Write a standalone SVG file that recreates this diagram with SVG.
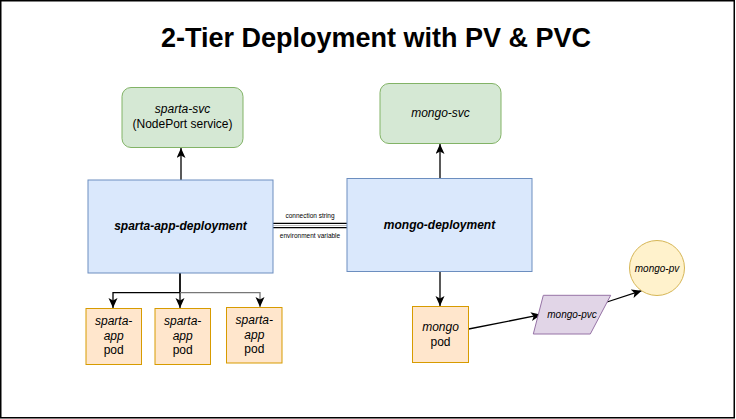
<svg xmlns="http://www.w3.org/2000/svg" width="736" height="419" viewBox="0 0 736 419">
<style>
text{font-family:"Liberation Sans",Arial,Helvetica,sans-serif;fill:#000;text-anchor:middle}
.l{font-size:12px}
.i{font-style:italic}
.b{font-weight:bold}
.s{font-size:10px;font-style:italic}
.t{font-size:6.5px}
.green{fill:#d5e8d4;stroke:#82b366;stroke-width:1}
.blue{fill:#dae8fc;stroke:#6c8ebf;stroke-width:1}
.orange{fill:#ffe6cc;stroke:#d79b00;stroke-width:1}
.purple{fill:#e1d5e7;stroke:#9673a6;stroke-width:1}
.yellow{fill:#fff2cc;stroke:#d6b656;stroke-width:1}
.e{fill:none;stroke:#000;stroke-width:1.3}
</style>
<defs>
<marker id="arr" markerUnits="userSpaceOnUse" markerWidth="12" markerHeight="10" refX="10" refY="4.5" orient="auto">
<path d="M0,0 L10,4.5 L0,9 L2.5,4.5 Z" fill="#000"/>
</marker>
</defs>
<rect x="0.75" y="0.75" width="733.5" height="417" fill="#fff" stroke="#000" stroke-width="1.5"/>
<text x="376" y="47" class="b" style="font-size:27px">2-Tier Deployment with PV &amp; PVC</text>

<g id="connectors">
<path class="e" d="M181,180 L181,148" marker-end="url(#arr)"/>
<path class="e" d="M440,178 L440,144" marker-end="url(#arr)"/>
<path class="e" d="M180,273 L180,292.7 L113,292.7 L113,308" marker-end="url(#arr)"/>
<path class="e" d="M180,273 L180,308" marker-end="url(#arr)"/>
<path class="e" style="stroke:#777" d="M180,292.7 L260,292.7 L260,307" marker-end="url(#arr)"/>
<path class="e" d="M440,271 L440,306" marker-end="url(#arr)"/>
<path class="e" d="M468.7,329 L541,314.7" marker-end="url(#arr)"/>
<path class="e" d="M607,302 L641.7,290.7" marker-end="url(#arr)"/>
<g id="link">
<line x1="273" y1="223.4" x2="347" y2="223.4" stroke="#000" stroke-width="1.3"/>
<line x1="273" y1="227.6" x2="347" y2="227.6" stroke="#000" stroke-width="1.3"/>
<line x1="273" y1="225.5" x2="347" y2="225.5" stroke="#bbb" stroke-width="1"/>
<text x="310" y="218" class="t">connection string</text>
<text x="310" y="237.5" class="t">environment variable</text>
</g>
</g>

<g id="sparta-svc">
<rect x="122" y="87.5" width="121" height="60" rx="9" class="green"/>
<text x="182.5" y="113" class="l i">sparta-svc</text>
<text x="182.5" y="128" class="l">(NodePort service)</text>
</g>
<g id="mongo-svc">
<rect x="380" y="83.5" width="121" height="60" rx="9" class="green"/>
<text x="440.5" y="117" class="l i">mongo-svc</text>
</g>
<g id="sparta-app-deployment">
<rect x="88" y="180" width="185" height="93" class="blue"/>
<text x="180.5" y="229.5" class="l i b">sparta-app-deployment</text>
</g>
<g id="mongo-deployment">
<rect x="347" y="178.5" width="185" height="93" class="blue"/>
<text x="439.5" y="228.5" class="l i b">mongo-deployment</text>
</g>
<g id="pod1">
<rect x="86" y="308.5" width="55.5" height="56" class="orange"/>
<text x="113.7" y="325" class="l i">sparta-</text>
<text x="113.7" y="339.5" class="l i">app</text>
<text x="113.7" y="354" class="l">pod</text>
</g>
<g id="pod2">
<rect x="155" y="308.5" width="55.5" height="56" class="orange"/>
<text x="182.7" y="325" class="l i">sparta-</text>
<text x="182.7" y="339.5" class="l i">app</text>
<text x="182.7" y="354" class="l">pod</text>
</g>
<g id="pod3">
<rect x="226.5" y="307.5" width="55.5" height="55.5" class="orange"/>
<text x="254.3" y="324" class="l i">sparta-</text>
<text x="254.3" y="338.5" class="l i">app</text>
<text x="254.3" y="353" class="l">pod</text>
</g>
<g id="mongo-pod">
<rect x="412.5" y="306.5" width="56" height="56" class="orange"/>
<text x="440.5" y="331" class="l i">mongo</text>
<text x="440.5" y="345.5" class="l">pod</text>
</g>
<g id="mongo-pvc">
<polygon points="543.3,295.3 610.7,295.3 590.3,334 533.3,334" class="purple"/>
<text x="572" y="318" class="s">mongo-pvc</text>
</g>
<g id="mongo-pv">
<circle cx="657" cy="268" r="27.5" class="yellow"/>
<text x="657" y="271.5" class="s">mongo-pv</text>
</g>
</svg>
